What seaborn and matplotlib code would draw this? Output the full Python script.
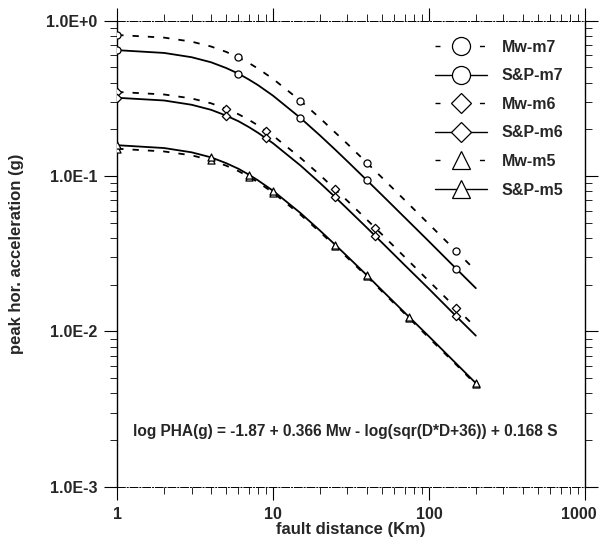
import numpy as np
import pandas as pd
import matplotlib
matplotlib.use('Agg')
import matplotlib.pyplot as plt
import matplotlib.transforms as mtransforms
import seaborn as sns
from matplotlib.lines import Line2D
from matplotlib.ticker import FixedLocator, LogLocator, NullFormatter, FuncFormatter

sns.set_theme(style="white")
plt.rcParams['font.family'] = ['Liberation Sans', 'DejaVu Sans']
plt.rcParams['font.weight'] = 'bold'

# distance grid (km) and curve values (g)
dist = [1, 2, 3, 4, 5, 6, 7, 8, 10, 15, 20, 25, 30, 40, 50, 70, 100, 150, 200]
mw_m7 = [0.809, 0.778, 0.733, 0.682, 0.630, 0.580, 0.534, 0.492, 0.422, 0.305,
         0.236, 0.191, 0.161, 0.1217, 0.0977, 0.0700, 0.0491, 0.0328, 0.0246]
sp_m7 = [0.646, 0.620, 0.582, 0.540, 0.496, 0.456, 0.418, 0.385, 0.329, 0.2364,
         0.1826, 0.1482, 0.1244, 0.0940, 0.0755, 0.0541, 0.0380, 0.0253, 0.0190]
mw_m6 = [0.348, 0.335, 0.316, 0.294, 0.271, 0.250, 0.230, 0.212, 0.182, 0.131,
         0.1016, 0.0822, 0.0693, 0.0524, 0.0421, 0.0301, 0.0211, 0.0141, 0.0106]
sp_m6 = [0.319, 0.3065, 0.2877, 0.267, 0.245, 0.2254, 0.2066, 0.190, 0.1626, 0.1169,
         0.0903, 0.0733, 0.0615, 0.0465, 0.0373, 0.0267, 0.0188, 0.0125, 0.0094]
mw_m5 = [0.150, 0.144, 0.136, 0.1266, 0.1167, 0.1076, 0.0990, 0.0913, 0.0783, 0.0564,
         0.0437, 0.0354, 0.0298, 0.0226, 0.0181, 0.0130, 0.0091, 0.0061, 0.00456]
sp_m5 = [0.158, 0.1515, 0.1422, 0.132, 0.1211, 0.1114, 0.1021, 0.0939, 0.0804, 0.0578,
         0.0446, 0.0362, 0.0304, 0.0230, 0.0184, 0.0132, 0.0093, 0.0062, 0.00465]

# marker positions
mk_x_m7 = [1, 6, 15, 40, 150]
mk_mw_m7 = [0.809, 0.580, 0.305, 0.1217, 0.0328]
mk_sp_m7 = [0.646, 0.456, 0.2364, 0.0940, 0.0253]
mk_x_m6 = [1, 5, 9, 25, 45, 150]
mk_mw_m6 = [0.348, 0.271, 0.1958, 0.0822, 0.0466, 0.0141]
mk_sp_m6 = [0.319, 0.245, 0.1755, 0.0733, 0.0414, 0.0125]
mk_x_m5 = [1, 4, 7, 10, 25, 40, 75, 200]
mk_mw_m5 = [0.150, 0.1266, 0.0990, 0.0783, 0.0354, 0.0226, 0.01213, 0.00456]
mk_sp_m5 = [0.158, 0.132, 0.1021, 0.0804, 0.0362, 0.0230, 0.01235, 0.00465]

labels = ['Mw-m7', 'S&P-m7', 'Mw-m6', 'S&P-m6', 'Mw-m5', 'S&P-m5']
curves = [mw_m7, sp_m7, mw_m6, sp_m6, mw_m5, sp_m5]
mk_x = [mk_x_m7, mk_x_m7, mk_x_m6, mk_x_m6, mk_x_m5, mk_x_m5]
mk_y = [mk_mw_m7, mk_sp_m7, mk_mw_m6, mk_sp_m6, mk_mw_m5, mk_sp_m5]
markers = ['o', 'o', 'D', 'D', '^', '^']
dashed = [True, False, True, False, True, False]

fig = plt.figure(figsize=(6.01, 5.44), dpi=100)
ax = fig.add_axes([0.195, 0.105, 0.778, 0.857])

handles = []
for lab, yv, mx, my, m, d in zip(labels, curves, mk_x, mk_y, markers, dashed):
    df = pd.DataFrame({'x': dist, 'y': yv})
    ls = (0, (3.5, 5)) if d else '-'
    sns.lineplot(data=df, x='x', y='y', ax=ax, color='black', lw=1.3,
                 linestyle=ls, legend=False)
    msize = 26 if m != 'D' else 18
    sns.scatterplot(x=mx, y=my, ax=ax, marker=m, s=msize, facecolor='white',
                    edgecolor='black', linewidth=0.9, zorder=3, legend=False)
    hls = (0, (3.6, 12.4)) if d else '-'
    handles.append(Line2D([0], [0], color='black', lw=1.0, linestyle=hls,
                          marker=m, markersize=13 if m != 'D' else 10,
                          markerfacecolor='white', markeredgecolor='black',
                          markeredgewidth=0.9))

ax.set_xscale('log')
ax.set_yscale('log')
ax.set_xlim(1, 1000)
ax.set_ylim(1e-3, 1.0)

ax.xaxis.set_major_locator(FixedLocator([1, 10, 100, 1000]))
ax.xaxis.set_minor_locator(LogLocator(base=10, subs=np.arange(2, 10)))
ax.xaxis.set_minor_formatter(NullFormatter())
ax.xaxis.set_major_formatter(FuncFormatter(lambda v, p: f'{v:g}'))
ax.yaxis.set_major_locator(FixedLocator([1e-3, 1e-2, 1e-1, 1.0]))
ax.yaxis.set_minor_locator(LogLocator(base=10, subs=np.arange(2, 10)))
ax.yaxis.set_minor_formatter(NullFormatter())
ax.yaxis.set_major_formatter(FuncFormatter(lambda v, p: f'1.0E{int(round(np.log10(v))):+d}'))

ax.tick_params(which='major', direction='out', length=9.5, width=0.8, color='black',
               top=True, right=True, bottom=True, left=True, labelsize=11.5, pad=5)
ax.tick_params(which='minor', direction='out', length=5, width=0.6, color='black',
               top=True, right=True, bottom=True, left=True)

for s in ['left', 'right']:
    ax.spines[s].set_color('black')
    ax.spines[s].set_linewidth(1.0)
for s in ['top', 'bottom']:
    ax.spines[s].set_color('black')
    ax.spines[s].set_linewidth(0.7)
    ax.spines[s].set_linestyle((0, (8, 2, 1, 2)))

ax.set_xlabel('fault distance (Km)', fontsize=12, fontweight='bold', labelpad=0)
ax.set_ylabel('peak hor. acceleration (g)', fontsize=12, fontweight='bold', labelpad=16)

ax.text(0.033, 0.118, 'log PHA(g) = -1.87 + 0.366 Mw - log(sqr(D*D+36)) + 0.168 S',
        transform=ax.transAxes, fontsize=11.2, fontweight='bold', ha='left', va='center')

leg = ax.legend(handles=handles, labels=labels, loc='upper right',
                bbox_to_anchor=(0.985, 0.99), frameon=False, fontsize=11.5,
                handlelength=3.3, labelspacing=0.85, handletextpad=0.9)
for t in leg.get_texts():
    t.set_fontweight('bold')

# keep the "1000" label inside the canvas
fig.canvas.draw()
for t in ax.get_xticklabels():
    t.set_fontweight('bold')
    if t.get_text() == '1000':
        t.set_transform(t.get_transform() +
                        mtransforms.ScaledTranslation(-0.06, 0, fig.dpi_scale_trans))
for t in ax.get_yticklabels():
    t.set_fontweight('bold')

fig.savefig('out.png', dpi=100, facecolor='white')
